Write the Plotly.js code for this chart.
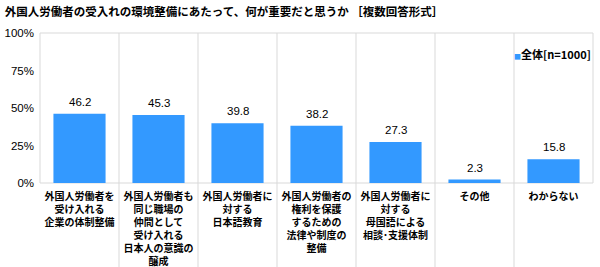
<!DOCTYPE html>
<html><head><meta charset="utf-8">
<script src="https://cdn.plot.ly/plotly-3.0.1.min.js"></script>
<style>html,body{margin:0;padding:0;background:#fff}#c{width:600px;height:267px}</style>
</head><body><div id="c"></div>
<script>
const categories = [
  "外国人労働者を<br>受け入れる<br>企業の体制整備",
  "外国人労働者も<br>同じ職場の<br>仲間として<br>受け入れる<br>日本人の意識の<br>醸成",
  "外国人労働者に<br>対する<br>日本語教育",
  "外国人労働者の<br>権利を保護<br>するための<br>法律や制度の<br>整備",
  "外国人労働者に<br>対する<br>母国語による<br>相談･支援体制",
  "その他",
  "わからない"
];
const values = [46.2, 45.3, 39.8, 38.2, 27.3, 2.3, 15.8];
const seriesName = "全体[n=1000]";
const yTickVals = [0, 25, 50, 75, 100];
const yTickText = ["0%", "25%", "50%", "75%", "100%"];
const titleText = "外国人労働者の受入れの環境整備にあたって、何が重要だと思うか ［複数回答形式］";

const barColor = "#3399ff";
const gridColor = "#d9d9d9";
const jp = "'Noto Sans CJK JP', sans-serif";

const xIdx = categories.map((_, i) => i);

const shapes = [{type:'rect', xref:'paper', yref:'paper', x0:0, x1:1, y0:0, y1:1,
  line:{color:gridColor, width:1}, layer:'below'}];
for (let i = 0; i < categories.length - 1; i++) {
  shapes.push({type:'line', xref:'x', yref:'paper', x0:i+0.5, x1:i+0.5, y0:-0.6, y1:1,
    line:{color:gridColor, width:1}, layer:'below'});
}

const annotations = values.map((v, i) => ({
  x: i, y: v, xref:'x', yref:'y', text: v.toFixed(1), showarrow:false,
  yanchor:'bottom', yshift:4, font:{family:"'Liberation Sans', Arial, sans-serif", size:11.5, color:'#000'}
}));
annotations.push({
  xref:'paper', yref:'paper', x:1, y:0.86, xanchor:'right', yanchor:'middle', showarrow:false,
  text: "<span style='color:"+barColor+";font-size:7px'>■</span>" + seriesName,
  font:{family:jp, size:11, color:'#000', weight:'bold'}
});

Plotly.newPlot('c', [{
  type:'bar', x:xIdx, y:values, name:seriesName,
  marker:{color:barColor}, hoverinfo:'skip'
}], {
  width:600, height:267,
  margin:{l:40, r:7, t:33, b:84},
  paper_bgcolor:'#fff', plot_bgcolor:'#fff',
  showlegend:false,
  bargap:0.34,
  title:{text:titleText, x:0.008, xanchor:'left', y:0.955, yanchor:'middle',
    font:{family:jp, size:11.5, color:'#000', weight:'bold'}},
  xaxis:{tickmode:'array', tickvals:xIdx, ticktext:categories, range:[-0.5, categories.length-0.5],
    showgrid:false, zeroline:false, showline:false, ticks:'',
    tickfont:{family:jp, size:10, color:'#000', weight:'bold'}, tickangle:0, ticklabelstandoff:6},
  yaxis:{range:[0,100], tickvals:yTickVals, ticktext:yTickText, showgrid:false, zeroline:false,
    showline:false, ticks:'', tickfont:{family:"'Liberation Sans', Arial, sans-serif", size:11.5, color:'#000'},
    ticklabelstandoff:5},
  shapes:shapes, annotations:annotations
}, {displayModeBar:false, staticPlot:true});
</script></body></html>
